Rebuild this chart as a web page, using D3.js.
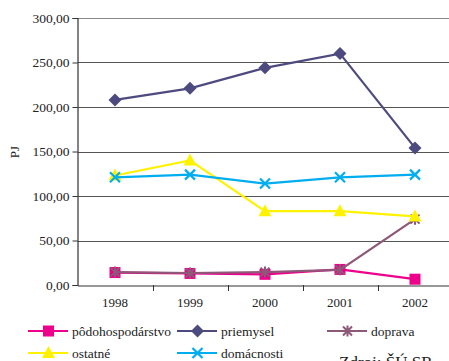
<!DOCTYPE html>
<html><head><meta charset="utf-8">
<script src="https://cdn.jsdelivr.net/npm/d3@7"></script>
<style>body{margin:0;background:#fff;overflow:hidden}svg{display:block}svg text{font-family:"Liberation Serif","Times New Roman",serif}</style>
</head><body><svg id="c" width="449" height="361"></svg>
<script>
const years = ["1998","1999","2000","2001","2002"];
const yTicks = [0,50,100,150,200,250,300];
const podohospodarstvo = [14,13,12,17.5,6.5];
const priemysel = [208,221,244,260,154];
const doprava = [14.5,13.5,14.5,17,74];
const ostatne = [123,140,83,83,77];
const domacnosti = [121,124,114,121,124];
const seriesNames = ["pôdohospodárstvo","priemysel","doprava","ostatné","domácnosti"];
const seriesValues = [podohospodarstvo,priemysel,doprava,ostatne,domacnosti];
const colors = ["#ec008c","#4d4a7f","#8e5878","#fff200","#00aeef"];
const markers = ["square","diamond","asterisk","triangle","cross"];
const FONT = "Liberation Serif";

const svg = d3.select("#c");
const x = d3.scaleBand().domain(years).range([77.5,452.5]).padding(0);
const y = d3.scaleLinear().domain([0,300]).range([285,18]);
const cx = d => x(d)+x.bandwidth()/2;

// gridlines
svg.append("g").selectAll("line").data(yTicks.filter(t=>t>0)).join("line")
  .attr("x1",77.5).attr("x2",452.5).attr("y1",d=>Math.round(y(d))+0.5).attr("y2",d=>Math.round(y(d))+0.5)
  .attr("stroke",(d)=>d===300?"#8a8a8a":"#555").attr("stroke-width",1.2);

// y axis
const ya = svg.append("g").attr("transform","translate(77.5,0)")
  .call(d3.axisLeft(y).tickValues(yTicks).tickSize(5).tickPadding(3).tickFormat(d=>d3.format(".2f")(d).replace(".",",")));
ya.attr("font-family",FONT);
ya.select(".domain").attr("stroke","#333").attr("stroke-width",1.2);
ya.selectAll(".tick line").attr("stroke","#333");
ya.selectAll("text").attr("font-size",13.5).attr("fill","#222").attr("font-family",FONT);

// x axis
const xa = svg.append("g").attr("transform","translate(0,285.5)")
  .call(d3.axisBottom(x).tickSize(0).tickPadding(12));
xa.attr("font-family",FONT);
xa.select(".domain").attr("stroke","#333").attr("stroke-width",1.2);
xa.selectAll("text").attr("font-size",13).attr("fill","#222").attr("font-family",FONT);
svg.append("g").selectAll("line").data(years.slice(1)).join("line")
  .attr("x1",d=>Math.round(x(d))+0.5).attr("x2",d=>Math.round(x(d))+0.5).attr("y1",285).attr("y2",291)
  .attr("stroke","#333").attr("stroke-width",1);

// PJ label
svg.append("text").attr("transform","translate(19,152) rotate(-90)").attr("text-anchor","middle")
  .attr("font-family",FONT).attr("font-size",13).attr("fill","#222").text("PJ");

function drawMarker(g, type, px, py, color){
  if(type==="square"){
    g.append("rect").attr("x",px-5.5).attr("y",py-5.5).attr("width",11).attr("height",11).attr("fill",color);
  } else if(type==="diamond"){
    g.append("path").attr("d",`M${px},${py-6.5}L${px+6.5},${py}L${px},${py+6.5}L${px-6.5},${py}Z`).attr("fill",color);
  } else if(type==="triangle"){
    g.append("path").attr("d",`M${px},${py-7}L${px+6.5},${py+5}L${px-6.5},${py+5}Z`).attr("fill",color);
  } else if(type==="cross"){
    g.append("path").attr("d",`M${px-5},${py-5}L${px+5},${py+5}M${px+5},${py-5}L${px-5},${py+5}`).attr("stroke",color).attr("stroke-width",2.2).attr("fill","none");
  } else if(type==="asterisk"){
    g.append("path").attr("d",`M${px-4.5},${py-4.5}L${px+4.5},${py+4.5}M${px+4.5},${py-4.5}L${px-4.5},${py+4.5}M${px},${py-5.5}L${px},${py+5.5}`).attr("stroke",color).attr("stroke-width",2).attr("fill","none");
  }
}

const line = d3.line().x((d,i)=>cx(years[i])).y(d=>y(d));
seriesValues.forEach((vals,si)=>{
  const g = svg.append("g");
  g.append("path").datum(vals).attr("d",line).attr("fill","none").attr("stroke",colors[si]).attr("stroke-width",2.2);
  vals.forEach((v,i)=>drawMarker(g,markers[si],cx(years[i]),y(v),colors[si]));
});

// legend
const legPos = [[28,331],[177,331],[327,331],[28,353],[177,353]];
seriesNames.forEach((n,si)=>{
  const [lx,ly] = legPos[si];
  const g = svg.append("g");
  g.append("line").attr("x1",lx).attr("x2",lx+40).attr("y1",ly).attr("y2",ly).attr("stroke",colors[si]).attr("stroke-width",2.2);
  drawMarker(g,markers[si],lx+20.5,ly,colors[si]);
  g.append("text").attr("x",lx+44).attr("y",ly).attr("dy","0.35em").attr("font-family",FONT).attr("font-size",13.5).attr("fill","#222").text(n);
});

svg.append("text").attr("x",339).attr("y",368).attr("font-family",FONT).attr("font-size",17).attr("fill","#222").text("Zdroj: ŠÚ SR");
</script></body></html>
